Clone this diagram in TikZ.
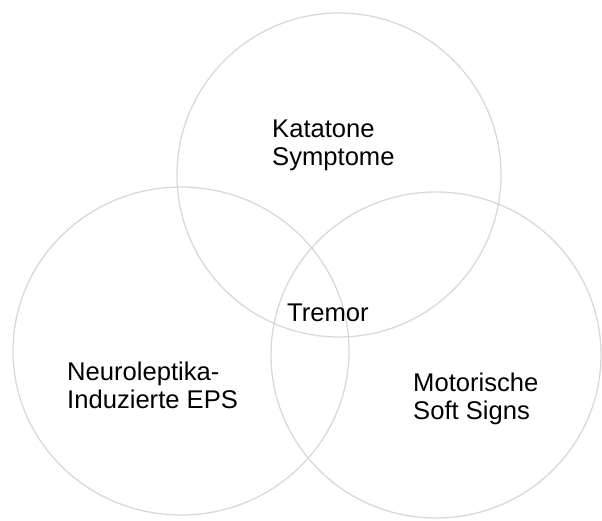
\documentclass[tikz,border=0pt]{standalone}
\usepackage{fontspec}
\setmainfont{Liberation Sans}
\definecolor{ring}{HTML}{D8D8D8}
\tikzset{
  ringline/.style={draw=ring, line width=1.3pt},
  lbl/.style={inner sep=0pt, align=left, anchor=base west, font=\fontsize{25.6}{28}\selectfont, text=black}
}
\begin{document}
\begin{tikzpicture}[x=1pt,y=-1pt]
\useasboundingbox (0,0) rectangle (602,520);
\draw[ringline] (339,175) ellipse [x radius=162, y radius=162];
\draw[ringline] (181,351) ellipse [x radius=168, y radius=164];
\draw[ringline] (436,355) ellipse [x radius=165, y radius=163];
% base anchor of a multi-line node is the baseline of its last line
\node[lbl] (kat) at (272,165) {Katatone\\Symptome};
\node[lbl] (tre) at (287,321) {Tremor};
\node[lbl] (neu) at (67,408) {Neuroleptika-\\Induzierte EPS};
\node[lbl] (mot) at (413,419) {Motorische\\Soft Signs};
\end{tikzpicture}
\end{document}
